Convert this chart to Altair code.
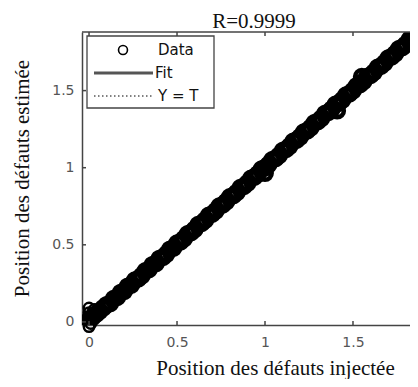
import altair as alt
import pandas as pd

# ---- data ----
target_main = [0.00, 0.02, 0.04, 0.06, 0.08, 0.10, 0.12, 0.14, 0.16, 0.18,
               0.20, 0.22, 0.24, 0.26, 0.28, 0.30, 0.32, 0.34, 0.36, 0.38,
               0.40, 0.42, 0.44, 0.46, 0.48, 0.50, 0.52, 0.54, 0.56, 0.58,
               0.60, 0.62, 0.64, 0.66, 0.68, 0.70, 0.72, 0.74, 0.76, 0.78,
               0.80, 0.82, 0.84, 0.86, 0.88, 0.90, 0.92, 0.94, 0.96, 0.98,
               1.00, 1.02, 1.04, 1.06, 1.08, 1.10, 1.12, 1.14, 1.16, 1.18,
               1.20, 1.22, 1.24, 1.26, 1.28, 1.30, 1.32, 1.34, 1.36, 1.38,
               1.40, 1.42, 1.44, 1.46, 1.48, 1.50, 1.52, 1.54, 1.56, 1.58,
               1.60, 1.62, 1.64, 1.66, 1.68, 1.70, 1.72, 1.74, 1.76, 1.78,
               1.80, 1.82, 1.84, 1.86, 1.88, 1.90, 1.92, 1.00, 1.41, 1.55]
output_main = [0.01, 0.03, 0.05, 0.07, 0.09, 0.11, 0.12, 0.15, 0.16, 0.19,
               0.20, 0.23, 0.24, 0.27, 0.28, 0.30, 0.33, 0.34, 0.37, 0.38,
               0.41, 0.42, 0.44, 0.47, 0.48, 0.51, 0.52, 0.54, 0.57, 0.58,
               0.60, 0.63, 0.64, 0.66, 0.69, 0.70, 0.72, 0.75, 0.76, 0.78,
               0.81, 0.82, 0.84, 0.87, 0.88, 0.90, 0.93, 0.94, 0.96, 0.99,
               1.00, 1.02, 1.05, 1.06, 1.08, 1.11, 1.12, 1.14, 1.17, 1.18,
               1.20, 1.23, 1.24, 1.26, 1.29, 1.30, 1.32, 1.35, 1.36, 1.38,
               1.41, 1.42, 1.44, 1.47, 1.48, 1.50, 1.53, 1.54, 1.56, 1.59,
               1.60, 1.62, 1.65, 1.66, 1.68, 1.71, 1.72, 1.74, 1.77, 1.78,
               1.80, 1.83, 1.84, 1.86, 1.89, 1.90, 1.92, 0.965, 1.37, 1.59]
target_origin = [0.00, 0.00, 0.00, 0.00, 0.01, 0.02, 0.03]
output_origin = [-0.03, 0.03, 0.06, 0.09, -0.01, 0.06, 0.08]
line_t = [-0.04, 1.95]
fit_y = [-0.04, 1.95]
ident_y = [-0.04, 1.95]
tick_values = [0, 0.5, 1, 1.5]
title_text = "R=0.9999"
x_title = "Position des défauts injectée"
y_title = "Position des défauts estimée"
legend_labels = ["Data", "Fit", "Y = T"]

# ---- layout ----
W, H = 328, 293
xs = alt.Scale(domain=[-0.04, 1.824], nice=False, zero=False)
ys = alt.Scale(domain=[-0.02, 1.88], nice=False, zero=False)
AX = "#444444"

main_df = pd.DataFrame({"t": target_main, "y": output_main})
orig_df = pd.DataFrame({"t": target_origin, "y": output_origin})
line_df = pd.DataFrame({"t": line_t, "fit": fit_y, "ident": ident_y})
tick_df = pd.DataFrame({"v": tick_values})
one = pd.DataFrame({"a": [0]})

x_axis = alt.Axis(values=tick_values, format="~g", ticks=False, grid=False,
                  domainColor=AX, domainWidth=1.5, labelFont="DejaVu Sans",
                  labelFontSize=14, labelColor="#555555", labelPadding=10,
                  title=x_title, titleFont="Liberation Serif", titleFontSize=21,
                  titleFontWeight="normal", titleColor="#111111",
                  titleX=193, titleY=49, titleBaseline="alphabetic", titleAlign="center")
y_axis = alt.Axis(values=tick_values, format="~g", ticks=False, grid=False,
                  domainColor=AX, domainWidth=1.5, labelFont="DejaVu Sans",
                  labelFontSize=14, labelColor="#555555", labelPadding=8,
                  title=y_title, titleFont="Liberation Serif", titleFontSize=21,
                  titleFontWeight="normal", titleColor="#111111",
                  titleX=-60, titleY=146, titleBaseline="middle", titleAlign="center",
                  titleAngle=270)

fit = alt.Chart(line_df).mark_line(color="#555555", strokeWidth=3, clip=True).encode(
    x=alt.X("t:Q", scale=xs, axis=x_axis),
    y=alt.Y("fit:Q", scale=ys, axis=y_axis))
ident = alt.Chart(line_df).mark_line(color="black", strokeWidth=1, strokeDash=[1.5, 2.5], clip=True).encode(
    x=alt.X("t:Q", scale=xs, axis=x_axis),
    y=alt.Y("ident:Q", scale=ys, axis=y_axis))
scatter = alt.Chart(main_df).mark_point(shape="circle", filled=False, size=180, strokeWidth=4.5,
                                        color="black", opacity=1, clip=True).encode(
    x=alt.X("t:Q", scale=xs, axis=x_axis),
    y=alt.Y("y:Q", scale=ys, axis=y_axis))
origin = alt.Chart(orig_df).mark_point(shape="circle", filled=False, size=110, strokeWidth=2.5,
                                       color="black", opacity=1).encode(
    x=alt.X("t:Q", scale=xs, axis=x_axis),
    y=alt.Y("y:Q", scale=ys, axis=y_axis))

bt = alt.Chart(tick_df).mark_rule(color=AX, strokeWidth=1.5).encode(
    x=alt.X("v:Q", scale=xs, axis=x_axis), y=alt.value(H), y2=alt.value(H - 4))
tt = alt.Chart(tick_df).mark_rule(color=AX, strokeWidth=1.5).encode(
    x=alt.X("v:Q", scale=xs, axis=x_axis), y=alt.value(0), y2=alt.value(4))
lt = alt.Chart(tick_df).mark_rule(color=AX, strokeWidth=1.5).encode(
    y=alt.Y("v:Q", scale=ys, axis=y_axis), x=alt.value(0), x2=alt.value(4))
top = alt.Chart(one).mark_rule(color=AX, strokeWidth=1.5).encode(
    x=alt.value(0), x2=alt.value(W), y=alt.value(0))

leg_box = alt.Chart(one).mark_rect(fill="white", stroke=AX, strokeWidth=1.3).encode(
    x=alt.value(5), x2=alt.value(132), y=alt.value(4), y2=alt.value(76))
leg_circle = alt.Chart(one).mark_point(shape="circle", filled=False, size=80, strokeWidth=1.6,
                                       color="black", opacity=1).encode(
    x=alt.value(41), y=alt.value(18))
leg_fit = alt.Chart(one).mark_rule(color="#555555", strokeWidth=3).encode(
    x=alt.value(12), x2=alt.value(71), y=alt.value(41))
leg_ident = alt.Chart(one).mark_rule(color="black", strokeWidth=1, strokeDash=[1.5, 2.5]).encode(
    x=alt.value(12), x2=alt.value(70), y=alt.value(64))

def label(txt, px, py):
    return alt.Chart(one).mark_text(text=txt, align="left", baseline="middle",
                                    font="DejaVu Sans", fontSize=15, color="#111111").encode(
        x=alt.value(px), y=alt.value(py))

leg_texts = [label(legend_labels[0], 76, 18), label(legend_labels[1], 73, 41),
             label(legend_labels[2], 76, 64)]

title = alt.Chart(one).mark_text(text=title_text, align="center", baseline="top",
                                 font="Liberation Serif", fontSize=21, color="#111111").encode(
    x=alt.value(172), y=alt.value(-21))

chart = alt.layer(fit, ident, scatter, origin, bt, tt, lt, top,
                  leg_box, leg_circle, leg_fit, leg_ident, *leg_texts, title).properties(
    width=W, height=H,
    padding={"left": 74, "top": 24, "right": 0, "bottom": 54},
    autosize=alt.AutoSizeParams(type="none"),
    background="white",
).configure_view(stroke=None)

chart.save("out.html", embed_options={"renderer": "svg", "actions": False})
